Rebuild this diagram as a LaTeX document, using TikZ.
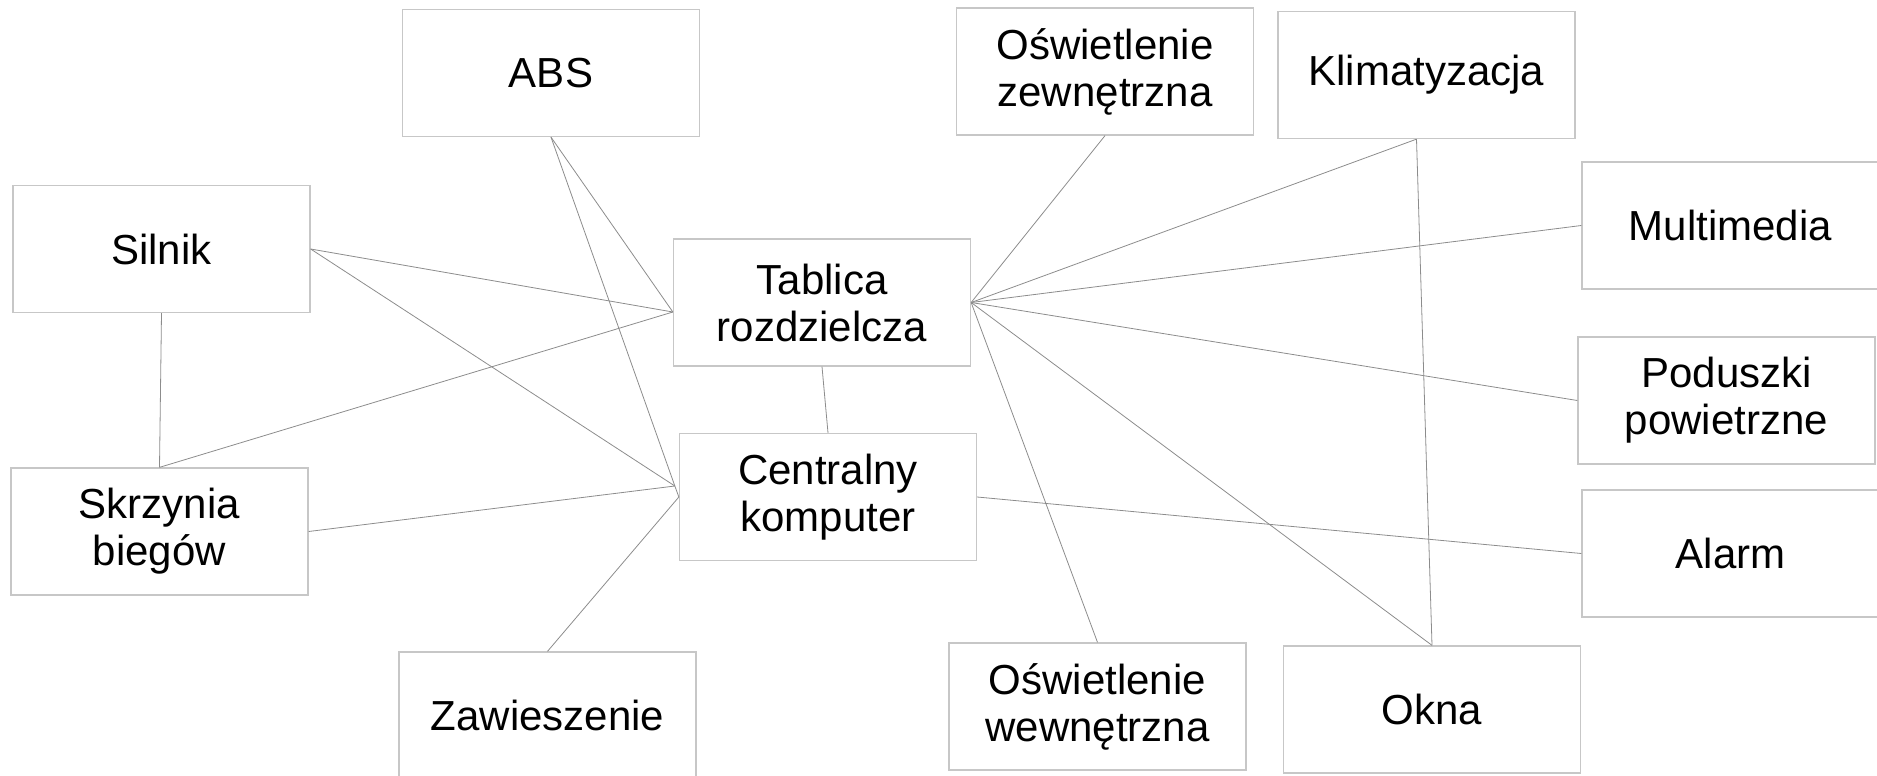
\documentclass[tikz,border=0pt]{standalone}
\usepackage{fontspec}
\setmainfont{Liberation Sans}
\usetikzlibrary{calc}
\begin{document}
\begin{tikzpicture}[x=1pt,y=-1pt,
  unit/.style={draw=black!22, line width=1.3pt, rectangle, minimum width=297pt,
    minimum height=127pt, inner sep=0pt, align=center,
    font=\fontsize{42}{47}\selectfont},
  link/.style={draw=black!45, line width=0.8pt}]
\useasboundingbox (0,0) rectangle (1877,776);

% modules
\node[unit] (abs)  at (551,73)     {ABS};
\node[unit] (sil)  at (161.5,249)  {Silnik};
\node[unit] (skrz) at (159.5,531.5){Skrzynia\\biegów};
\node[unit] (zaw)  at (547.5,715.5){Zawieszenie};
\node[unit] (tab)  at (822,302.5)  {Tablica\\rozdzielcza};
\node[unit] (cpu)  at (828,497)    {Centralny\\komputer};
\node[unit] (oz)   at (1105,71.5)  {Oświetlenie\\zewnętrzna};
\node[unit] (klim) at (1426.5,75)  {Klimatyzacja};
\node[unit] (multi)at (1730.5,225.5){Multimedia};
\node[unit] (pod)  at (1726.5,400.5){Poduszki\\powietrzne};
\node[unit] (alarm)at (1730.5,553.5){Alarm};
\node[unit] (ow)   at (1097.5,706.5){Oświetlenie\\wewnętrzna};
\node[unit] (okna) at (1432,709.5) {Okna};

% junction points on the box edges
\coordinate (tabL) at ($(tab.west)+(0,9.5)$);
\coordinate (cpuL) at ($(cpu.west)+(-4,-11)$);
\coordinate (klimB) at ($(klim.south)+(-10,0)$);

% wiring
\draw[link] (abs.south) -- (tabL);
\draw[link] (abs.south) -- (cpuL);
\draw[link] (sil.east) -- (tabL);
\draw[link] (sil.east) -- (cpuL);
\draw[link] (sil.south) -- (skrz.north);
\draw[link] (skrz.north) -- (tabL);
\draw[link] (skrz.east) -- (cpuL);
\draw[link] (cpuL) -- (cpu.west);
\draw[link] (zaw.north) -- (cpu.west);
\draw[link] (tab.south) -- (cpu.north);
\draw[link] (tab.east) -- (oz.south);
\draw[link] (tab.east) -- (klimB);
\draw[link] (tab.east) -- (multi.west);
\draw[link] (tab.east) -- (pod.west);
\draw[link] (tab.east) -- (ow.north);
\draw[link] (tab.east) -- (okna.north);
\draw[link] (cpu.east) -- (alarm.west);
\draw[link] (klimB) -- (okna.north);
\end{tikzpicture}
\end{document}
